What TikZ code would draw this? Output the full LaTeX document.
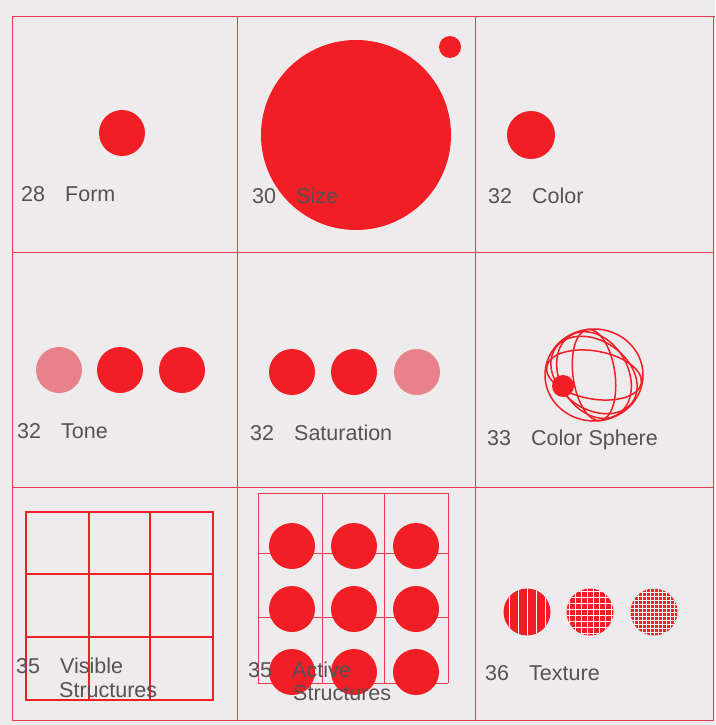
\documentclass[tikz,border=0pt]{standalone}
\usepackage{fontspec}
\setmainfont{Liberation Sans}

\definecolor{paper}{HTML}{EDEBEC}
\definecolor{inkred}{HTML}{F11E26}
\definecolor{palered}{HTML}{E8818A}
\definecolor{rulered}{HTML}{E63B50}
\definecolor{labelgrey}{HTML}{545253}

\tikzset{
  reddot/.style={circle, fill=inkred, inner sep=0pt, minimum size=46pt},
  paledot/.style={reddot, fill=palered},
  cellrule/.style={rulered, line width=0.8pt},
  boldgrid/.style={inkred, line width=1.8pt},
  finegrid/.style={rulered, line width=0.7pt},
  weave/.style={white, line width=0.8pt},
  globe/.style={inkred, line width=1.5pt},
  pagelabel/.style={anchor=base west, inner sep=0pt, text=labelgrey,
    font=\fontsize{21.5}{24}\selectfont},
}
\newcommand{\entry}[2]{\makebox[44pt][l]{#1}#2}

\begin{document}
\begin{tikzpicture}[x=1pt, y=-1pt]
    \useasboundingbox (0,0) rectangle (715,725);
    \fill[paper] (0,0) rectangle (715,725);

    % Page grid
    \draw[cellrule] (12,16) -- (715,16);
    \draw[cellrule] (12,16) rectangle (713,720);
    \draw[cellrule] (237,16) -- (237,720);
    \draw[cellrule] (475,16) -- (475,720);
    \draw[cellrule] (12,252) -- (713,252);
    \draw[cellrule] (12,487) -- (713,487);

    % Form, Size, Color
    \node[reddot] (form) at (122,133) {};
    \node[reddot, minimum size=190pt] (size big) at (356,135) {};
    \node[reddot, minimum size=22pt] (size small) at (450,47) {};
    \node[reddot, minimum size=48pt] (color) at (531,135) {};

    % Tone
    \node[paledot] (tone 1) at (59,370) {};
    \node[reddot] (tone 2) at (120,370) {};
    \node[reddot] (tone 3) at (182,370) {};

    % Saturation
    \node[reddot] (sat 1) at (292,372) {};
    \node[reddot] (sat 2) at (354,372) {};
    \node[paledot] (sat 3) at (417,372) {};

    % Color sphere
    \draw[globe] (594,375) ellipse (49 and 46);
    \begin{scope}[shift={(594,375)}]
      \draw[globe, rotate=-10] (0,0) ellipse (48 and 24);
      \draw[globe, rotate=-35] (0,0) ellipse (47 and 34);
      \draw[globe, rotate=8] (0,0) ellipse (21 and 46);
      \draw[globe, rotate=30] (0,0) ellipse (34 and 46);
    \end{scope}
    \node[reddot, minimum size=22pt] (sphere dot) at (563,386) {};

    % Visible structures
    \draw[boldgrid] (26,512) rectangle (213,700);
    \foreach \x in {89,150} \draw[boldgrid] (\x,512) -- (\x,700);
    \foreach \y in {574,637} \draw[boldgrid] (26,\y) -- (213,\y);

    % Active structures
    \foreach \x in {258,322,384,448} \draw[finegrid] (\x,493) -- (\x,683);
    \foreach \y in {493,553,617,683} \draw[finegrid] (258,\y) -- (448,\y);
    \foreach \x/\i in {292/1,354/2,416/3}
      \foreach \y/\j in {546/1,609/2,672/3}
        \node[reddot] (act \i\j) at (\x,\y) {};

    % Texture
    \begin{scope}
      \clip (527,612) circle (23.5);
      \fill[inkred] (500,585) rectangle (554,639);
      \foreach \d in {-18,-9,...,18} \draw[weave] (527+\d,585) -- ++(0,54);
    \end{scope}
    \begin{scope}
      \clip (590,612) circle (23.5);
      \fill[inkred] (563,585) rectangle (617,639);
      \foreach \d in {-21,-15,...,21} {
        \draw[weave, line width=0.6pt] (590+\d,585) -- ++(0,54);
        \draw[weave, line width=0.6pt] (563,612+\d) -- ++(54,0);
      }
    \end{scope}
    \begin{scope}
      \clip (654,612) circle (23.5);
      \fill[inkred] (627,585) rectangle (681,639);
      \foreach \d in {-24,-20,...,24} {
        \draw[weave, line width=0.5pt] (654+\d,585) -- ++(0,54);
        \draw[weave, line width=0.5pt] (627,612+\d) -- ++(54,0);
      }
    \end{scope}

    % Labels
    \node[pagelabel] (form label) at (21,201) {\entry{28}{Form}};
    \node[pagelabel] (size label) at (252,203) {\entry{30}{Size}};
    \node[pagelabel] (color label) at (488,203) {\entry{32}{Color}};
    \node[pagelabel] (tone label) at (17,438) {\entry{32}{Tone}};
    \node[pagelabel] (sat label) at (250,440) {\entry{32}{Saturation}};
    \node[pagelabel] (sphere label) at (487,445) {\entry{33}{Color Sphere}};
    \node[pagelabel] (visible label) at (16,673) {\entry{35}{Visible}};
    \node[pagelabel] (visible label 2) at (59,697) {Structures};
    \node[pagelabel] (active label) at (248,677) {\entry{35}{Active}};
    \node[pagelabel] (active label 2) at (293,700) {Structures};
    \node[pagelabel] (texture label) at (485,680) {\entry{36}{Texture}};
\end{tikzpicture}
\end{document}
